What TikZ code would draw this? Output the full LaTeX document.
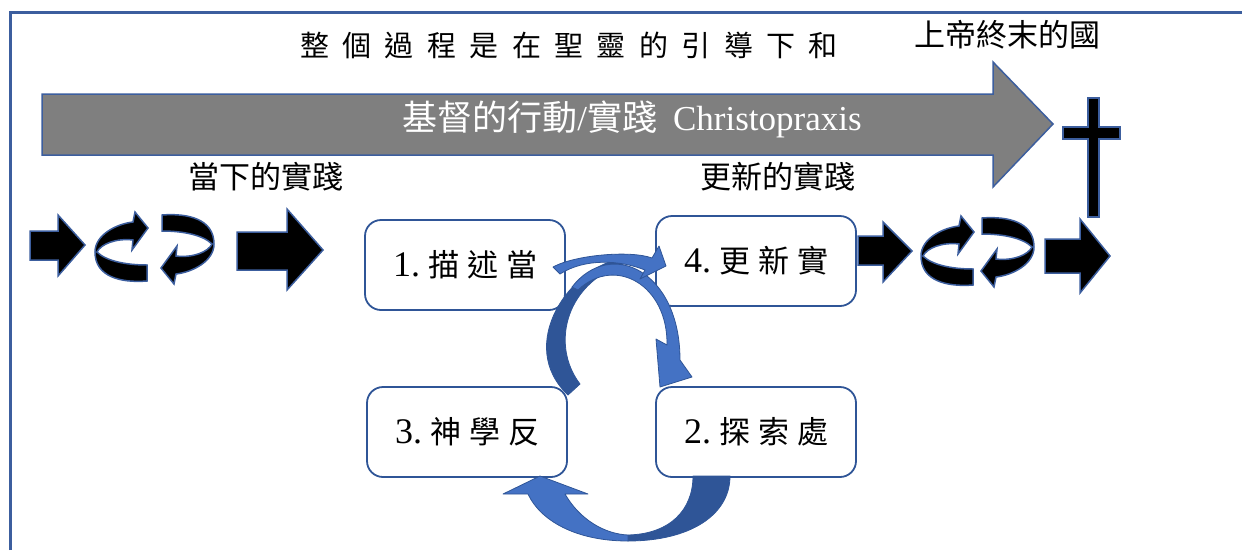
\documentclass[tikz,border=0pt]{standalone}
\usepackage{fontspec}
\setmainfont{Liberation Serif}
\newfontfamily\cjk{Noto Sans CJK TC}
\definecolor{frameblue}{HTML}{3C5E9E}
\definecolor{boxblue}{HTML}{2F5597}
\definecolor{lightarr}{HTML}{4472C4}
\definecolor{darkarr}{HTML}{2F5597}
\definecolor{bargray}{HTML}{7F7F7F}
\newcommand\boxtxt[4]{{\fontsize{36}{36}\selectfont #1}\hspace{8pt}{\cjk\fontsize{31}{31}\selectfont #2\hspace{8pt}#3\hspace{8pt}#4}}
\tikzset{
  blockarr/.style={fill=black, draw=frameblue, line width=1.5pt, line join=miter},
  stagebox/.style={draw=boxblue, line width=1.8pt, fill=white, rounded corners=16pt,
    minimum width=200pt, minimum height=90pt, inner sep=0pt},
  curvearr/.style={draw=darkarr, line width=0.8pt, line join=round},
  circarr/.pic={
    \filldraw[blockarr] (26,34) .. controls (0,36) and (-26,30) .. (-26,5)
      .. controls (-26,-12) and (-5,-23) .. (12,-25) -- (14,-35) -- (27,-19) -- (11,3) -- (12,-7)
      .. controls (-5,-9) and (-20,-3) .. (-24,5)
      .. controls (-15,14) and (5,18) .. (26,18) -- cycle;
  }
}
\begin{document}
\begin{tikzpicture}[x=1pt,y=-1pt]
\useasboundingbox (0,0) rectangle (1242,550);
% frame
\draw[frameblue, line width=3pt] (10,550) -- (10,12) -- (1242,12);
% big gray arrow
\filldraw[fill=bargray, draw=frameblue, line width=1.5pt, line join=miter]
  (42,94) -- (993,94) -- (993,62) -- (1053,124) -- (993,187) -- (993,155) -- (42,155) -- cycle;
\node[text=white, font=\fontsize{35}{35}\selectfont, inner sep=0pt] (christ) at (632,119)
  {{\cjk 基督的行動}/{\cjk 實踐}\hspace{16pt}Christopraxis};
% cross
\filldraw[blockarr] (1088,98) -- (1099,98) -- (1099,127) -- (1120,127) -- (1120,139) -- (1099,139)
  -- (1099,217) -- (1088,217) -- (1088,139) -- (1063,139) -- (1063,127) -- (1088,127) -- cycle;
% titles
\node[font=\cjk\fontsize{29}{29}\selectfont, inner sep=0pt] (title) at (569,45)
  {整\hspace{13.4pt}個\hspace{13.4pt}過\hspace{13.4pt}程\hspace{13.4pt}是\hspace{13.4pt}在\hspace{13.4pt}聖\hspace{13.4pt}靈\hspace{13.4pt}的\hspace{13.4pt}引\hspace{13.4pt}導\hspace{13.4pt}下\hspace{13.4pt}和};
\node[font=\cjk\fontsize{31}{31}\selectfont, inner sep=0pt] (kingdom) at (1007,35) {上帝終末的國};
\node[font=\cjk\fontsize{31}{31}\selectfont, inner sep=0pt] (present) at (266,177) {當下的實踐};
\node[font=\cjk\fontsize{31}{31}\selectfont, inner sep=0pt] (renewed) at (778,177) {更新的實踐};
% left arrows
\filldraw[blockarr] (30,231) -- (58,231) -- (58,215) -- (85,245) -- (58,276) -- (58,260) -- (30,260) -- cycle;
\pic at (121,247) {circarr};
\pic[rotate=180] at (188,249) {circarr};
\filldraw[blockarr] (237,232) -- (287,232) -- (287,209) -- (323,250) -- (287,290) -- (287,270) -- (237,270) -- cycle;
% right arrows
\filldraw[blockarr] (858,236) -- (883,236) -- (883,222) -- (912,251) -- (883,282) -- (883,265) -- (858,265) -- cycle;
\pic at (947,251) {circarr};
\pic[rotate=180] at (1008,252) {circarr};
\filldraw[blockarr] (1045,239) -- (1080,239) -- (1080,219) -- (1110,256) -- (1080,293) -- (1080,273) -- (1045,273) -- cycle;
% boxes
\node[stagebox] (b1) at (465,265) {\boxtxt{1.}{描}{述}{當}};
\node[stagebox] (b4) at (756,261) {\boxtxt{4.}{更}{新}{實}};
\node[stagebox] (b3) at (467,432) {\boxtxt{3.}{神}{學}{反}};
\node[stagebox] (b2) at (756,432) {\boxtxt{2.}{探}{索}{處}};
% curved arrows of the cycle
\filldraw[curvearr, fill=darkarr] (625,258) .. controls (570,265) and (515,345) .. (568,395)
  -- (580,384) .. controls (550,345) and (565,280) .. (630,262) -- cycle;
\filldraw[curvearr, fill=lightarr] (572,287) .. controls (610,238) and (680,270) .. (680,360)
  -- (692,377) -- (660,387) -- (656,339) -- (667,345)
  .. controls (668,285) and (615,255) .. (578,290) -- cycle;
\filldraw[curvearr, fill=lightarr] (553,267) .. controls (575,255) and (630,250) .. (652,258)
  -- (659,246) -- (666,266) -- (640,279) -- (645,270)
  .. controls (620,260) and (585,258) .. (560,274) -- cycle;
\filldraw[curvearr, fill=darkarr] (730,476) .. controls (730,515) and (690,541) .. (628,541)
  -- (628,535) .. controls (670,534) and (693,510) .. (693,476) -- cycle;
\filldraw[curvearr, fill=lightarr] (628,541) .. controls (575,541) and (540,520) .. (528,494)
  -- (503,494) -- (540,476) -- (588,494) -- (565,494)
  .. controls (580,520) and (605,534) .. (628,535) -- cycle;
\end{tikzpicture}
\end{document}
